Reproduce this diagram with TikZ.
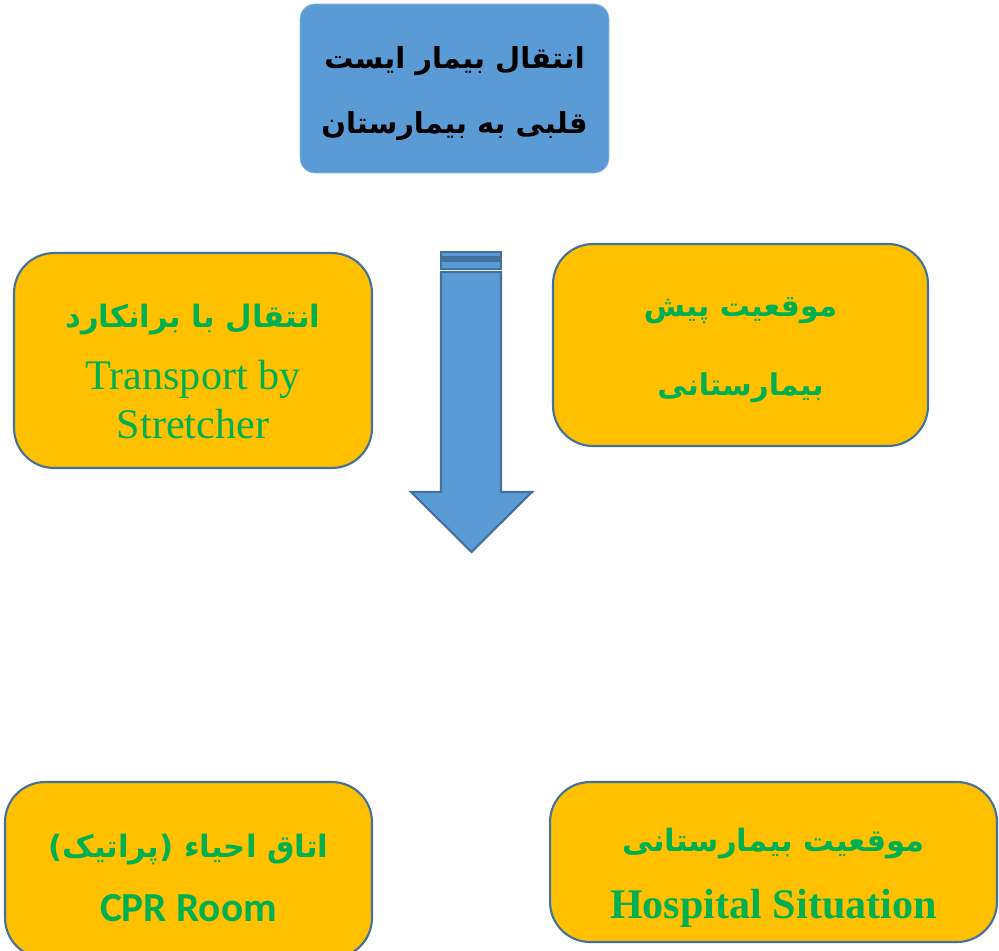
\documentclass[tikz,border=0pt]{standalone}
\usepackage{fontspec}
\setmainfont{Liberation Serif}
\newfontfamily\farsi[Script=Arabic]{DejaVu Sans}
\newfontfamily\calibri{Carlito}
\TeXXeTstate=1
\definecolor{officeblue}{HTML}{5B9BD5}
\definecolor{edgeblue}{HTML}{41719C}
\definecolor{boxyellow}{HTML}{FFC000}
\definecolor{textgreen}{HTML}{00B050}

\begin{document}
\begin{tikzpicture}[
        x=0.02cm, y=-0.02cm,
        titlebox/.style={
            fill=officeblue,
            draw=officeblue!70!white,
            rounded corners=0.3cm},
        box/.style={
            fill=boxyellow,
            draw=edgeblue,
            line width=1.2pt,
            rounded corners=0.8cm},
        boxtext/.style={
            align=center,
            text=textgreen,
            inner sep=0pt,
            font=\farsi\bfseries\fontsize{17.5}{35}\selectfont},
        stripe/.style={
            fill=officeblue,
            draw=edgeblue,
            line width=1.2pt}]
        \useasboundingbox (0,0) rectangle (999,950);

        \node[titlebox, minimum width=6.18cm, minimum height=3.38cm,
              label={[boxtext, text=black, yshift=-0.1cm,
                      font=\farsi\bfseries\fontsize{16.5}{37}\selectfont]center:
                     \beginR انتقال بیمار ایست\endR\\\beginR قلبی به بیمارستان\endR}]
            (T) at (454.5,88.5) {};

        \node[box, minimum width=7.16cm, minimum height=4.3cm,
              label={[boxtext, yshift=-0.22cm,
                      font=\farsi\bfseries\fontsize{17.5}{28}\selectfont]center:
                     \beginR انتقال  با برانکارد\endR\\[7pt]
                      \rmfamily\mdseries\fontsize{24}{28}\selectfont Transport by\\
                      \rmfamily\mdseries\fontsize{24}{28}\selectfont Stretcher}]
            (S) at (193,360.5) {};

        \node[box, minimum width=7.5cm, minimum height=4.04cm,
              label={[boxtext, yshift=-0.1cm,
                      font=\farsi\bfseries\fontsize{17}{45}\selectfont]center:
                     \beginR موقعیت پیش\endR\\\beginR بیمارستانی\endR}]
            (P) at (740.5,345) {};

        \node[box, minimum width=7.34cm, minimum height=3.52cm,
              label={[boxtext, yshift=-0.16cm]center:
                     \beginR اتاق احیاء (پراتیک)\endR\\[1pt]
                      \calibri\bfseries\fontsize{23.5}{35}\selectfont CPR Room}]
            (R) at (188.5,870) {};

        \node[box, minimum width=8.94cm, minimum height=3.2cm,
              label={[boxtext, yshift=-0.31cm]center:
                     \beginR موقعیت بیمارستانی\endR\\[3pt]
                      \rmfamily\bfseries\fontsize{24}{35}\selectfont Hospital Situation}]
            (H) at (773.5,862) {};

        % block arrow
        \draw[stripe] (441,252) rectangle (501,257.5);
        \draw[stripe] (441,260.5) rectangle (501,269);
        \draw[stripe, line join=miter] (441,272) -- (501,272) -- (501,492) -- (532,492)
            -- (471.5,552) -- (411,492) -- (441,492) -- cycle;
\end{tikzpicture}
\end{document}
